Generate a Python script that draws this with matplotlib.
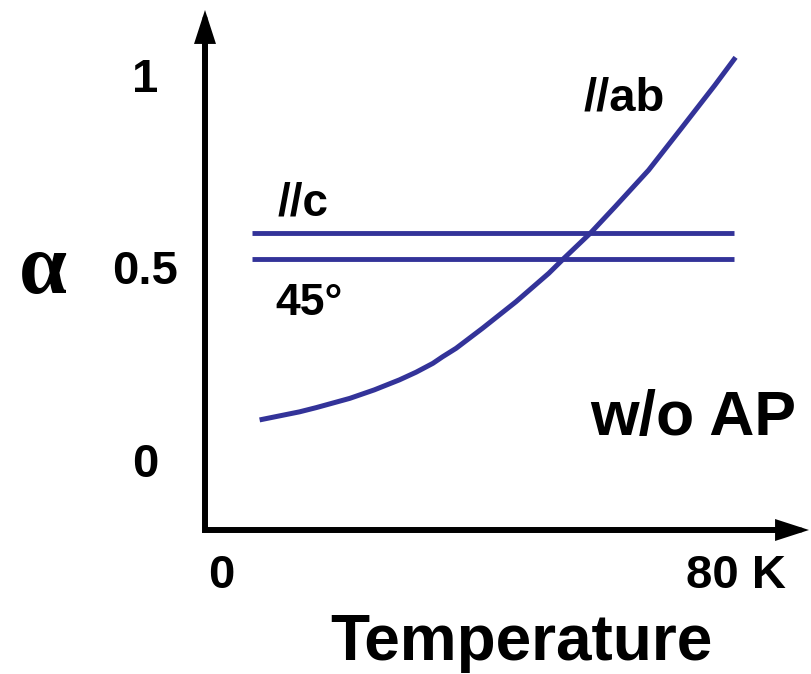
import matplotlib
matplotlib.use("Agg")
import matplotlib.pyplot as plt

# alpha(T) for the //ab orientation (T in K)
temperature_K = [6.0, 12.2, 14.8, 20.0, 23.8, 27.7, 30.3, 32.9, 34.4, 36.5, 40.6,
                 45.8, 50.9, 53.2, 57.4, 61.2, 66.4, 71.5, 76.7, 79.9]
alpha_ab = [0.104, 0.125, 0.136, 0.160, 0.182, 0.208, 0.228, 0.251, 0.268, 0.290,
            0.342, 0.411, 0.485, 0.523, 0.590, 0.658, 0.753, 0.862, 0.974, 1.046]

# temperature-independent orientations
flat_T = [4.8, 79.7]
alpha_c = 0.59
alpha_45 = 0.522

x_ticks = [0, 80]
x_tick_labels = ["0", "80 K"]
y_ticks = [0, 0.5, 1]
y_tick_labels = ["0", "0.5", "1"]

BLUE = "#333399"
plt.rcParams["font.family"] = ["Liberation Sans", "DejaVu Sans"]
plt.rcParams["font.weight"] = "bold"

W, H = 811, 674
fig = plt.figure(figsize=(W / 100, H / 100), dpi=100)
ax = fig.add_axes([205 / W, (H - 530) / H, (809 - 205) / W, (530 - 10) / H])
ax.set_xlim(-2.48, 91.3)
ax.set_ylim(-0.182, 1.169)
for s in ax.spines.values():
    s.set_visible(False)

# axes drawn as arrows
ax.plot([0, 0, 0.96], [0.95, 0, 0], transform=ax.transAxes, color="black",
        lw=4.3, solid_joinstyle="miter", solid_capstyle="butt", clip_on=False)
arrow_kw = dict(arrowstyle="-|>,head_length=17,head_width=5.5", mutation_scale=1,
                lw=3.5, color="black", shrinkA=0, shrinkB=0, joinstyle="miter")
ax.annotate("", xy=(0, 1), xytext=(0, 0.9), xycoords="axes fraction",
            arrowprops=arrow_kw, annotation_clip=False)
ax.annotate("", xy=(1, 0), xytext=(0.9, 0), xycoords="axes fraction",
            arrowprops=arrow_kw, annotation_clip=False)

# data
ax.plot(flat_T, [alpha_c, alpha_c], color=BLUE, lw=3.5, solid_capstyle="butt")
ax.plot(flat_T, [alpha_45, alpha_45], color=BLUE, lw=3.5, solid_capstyle="butt")
ax.plot(temperature_K, alpha_ab, color=BLUE, lw=3.6, solid_capstyle="butt",
        solid_joinstyle="round")

# ticks
ax.set_xticks(x_ticks, x_tick_labels)
ax.set_yticks(y_ticks, y_tick_labels)
ax.tick_params(length=0, labelsize=34)
ax.tick_params(axis="x", pad=17)
ax.tick_params(axis="y", pad=43)
for lbl in ax.get_yticklabels():
    lbl.set_horizontalalignment("center")

# curve labels
ax.text(56.3, 0.909, "//ab", fontsize=34, ha="left", va="baseline")
ax.text(8.8, 0.636, "//c", fontsize=33, ha="left", va="baseline")
ax.text(8.4, 0.377, "45°", fontsize=32, ha="left", va="baseline")
ax.text(57.4, 0.065, "w/o AP", fontsize=45, ha="left", va="baseline")

fig.text(521 / W, 1 - 660 / H, "Temperature", fontsize=46, ha="center", va="baseline")
fig.text(43 / W, 1 - 293 / H, "α", family=["Liberation Serif", "DejaVu Serif"],
         fontsize=62, weight="bold", ha="center", va="baseline")

fig.savefig("out.png", dpi=100)
